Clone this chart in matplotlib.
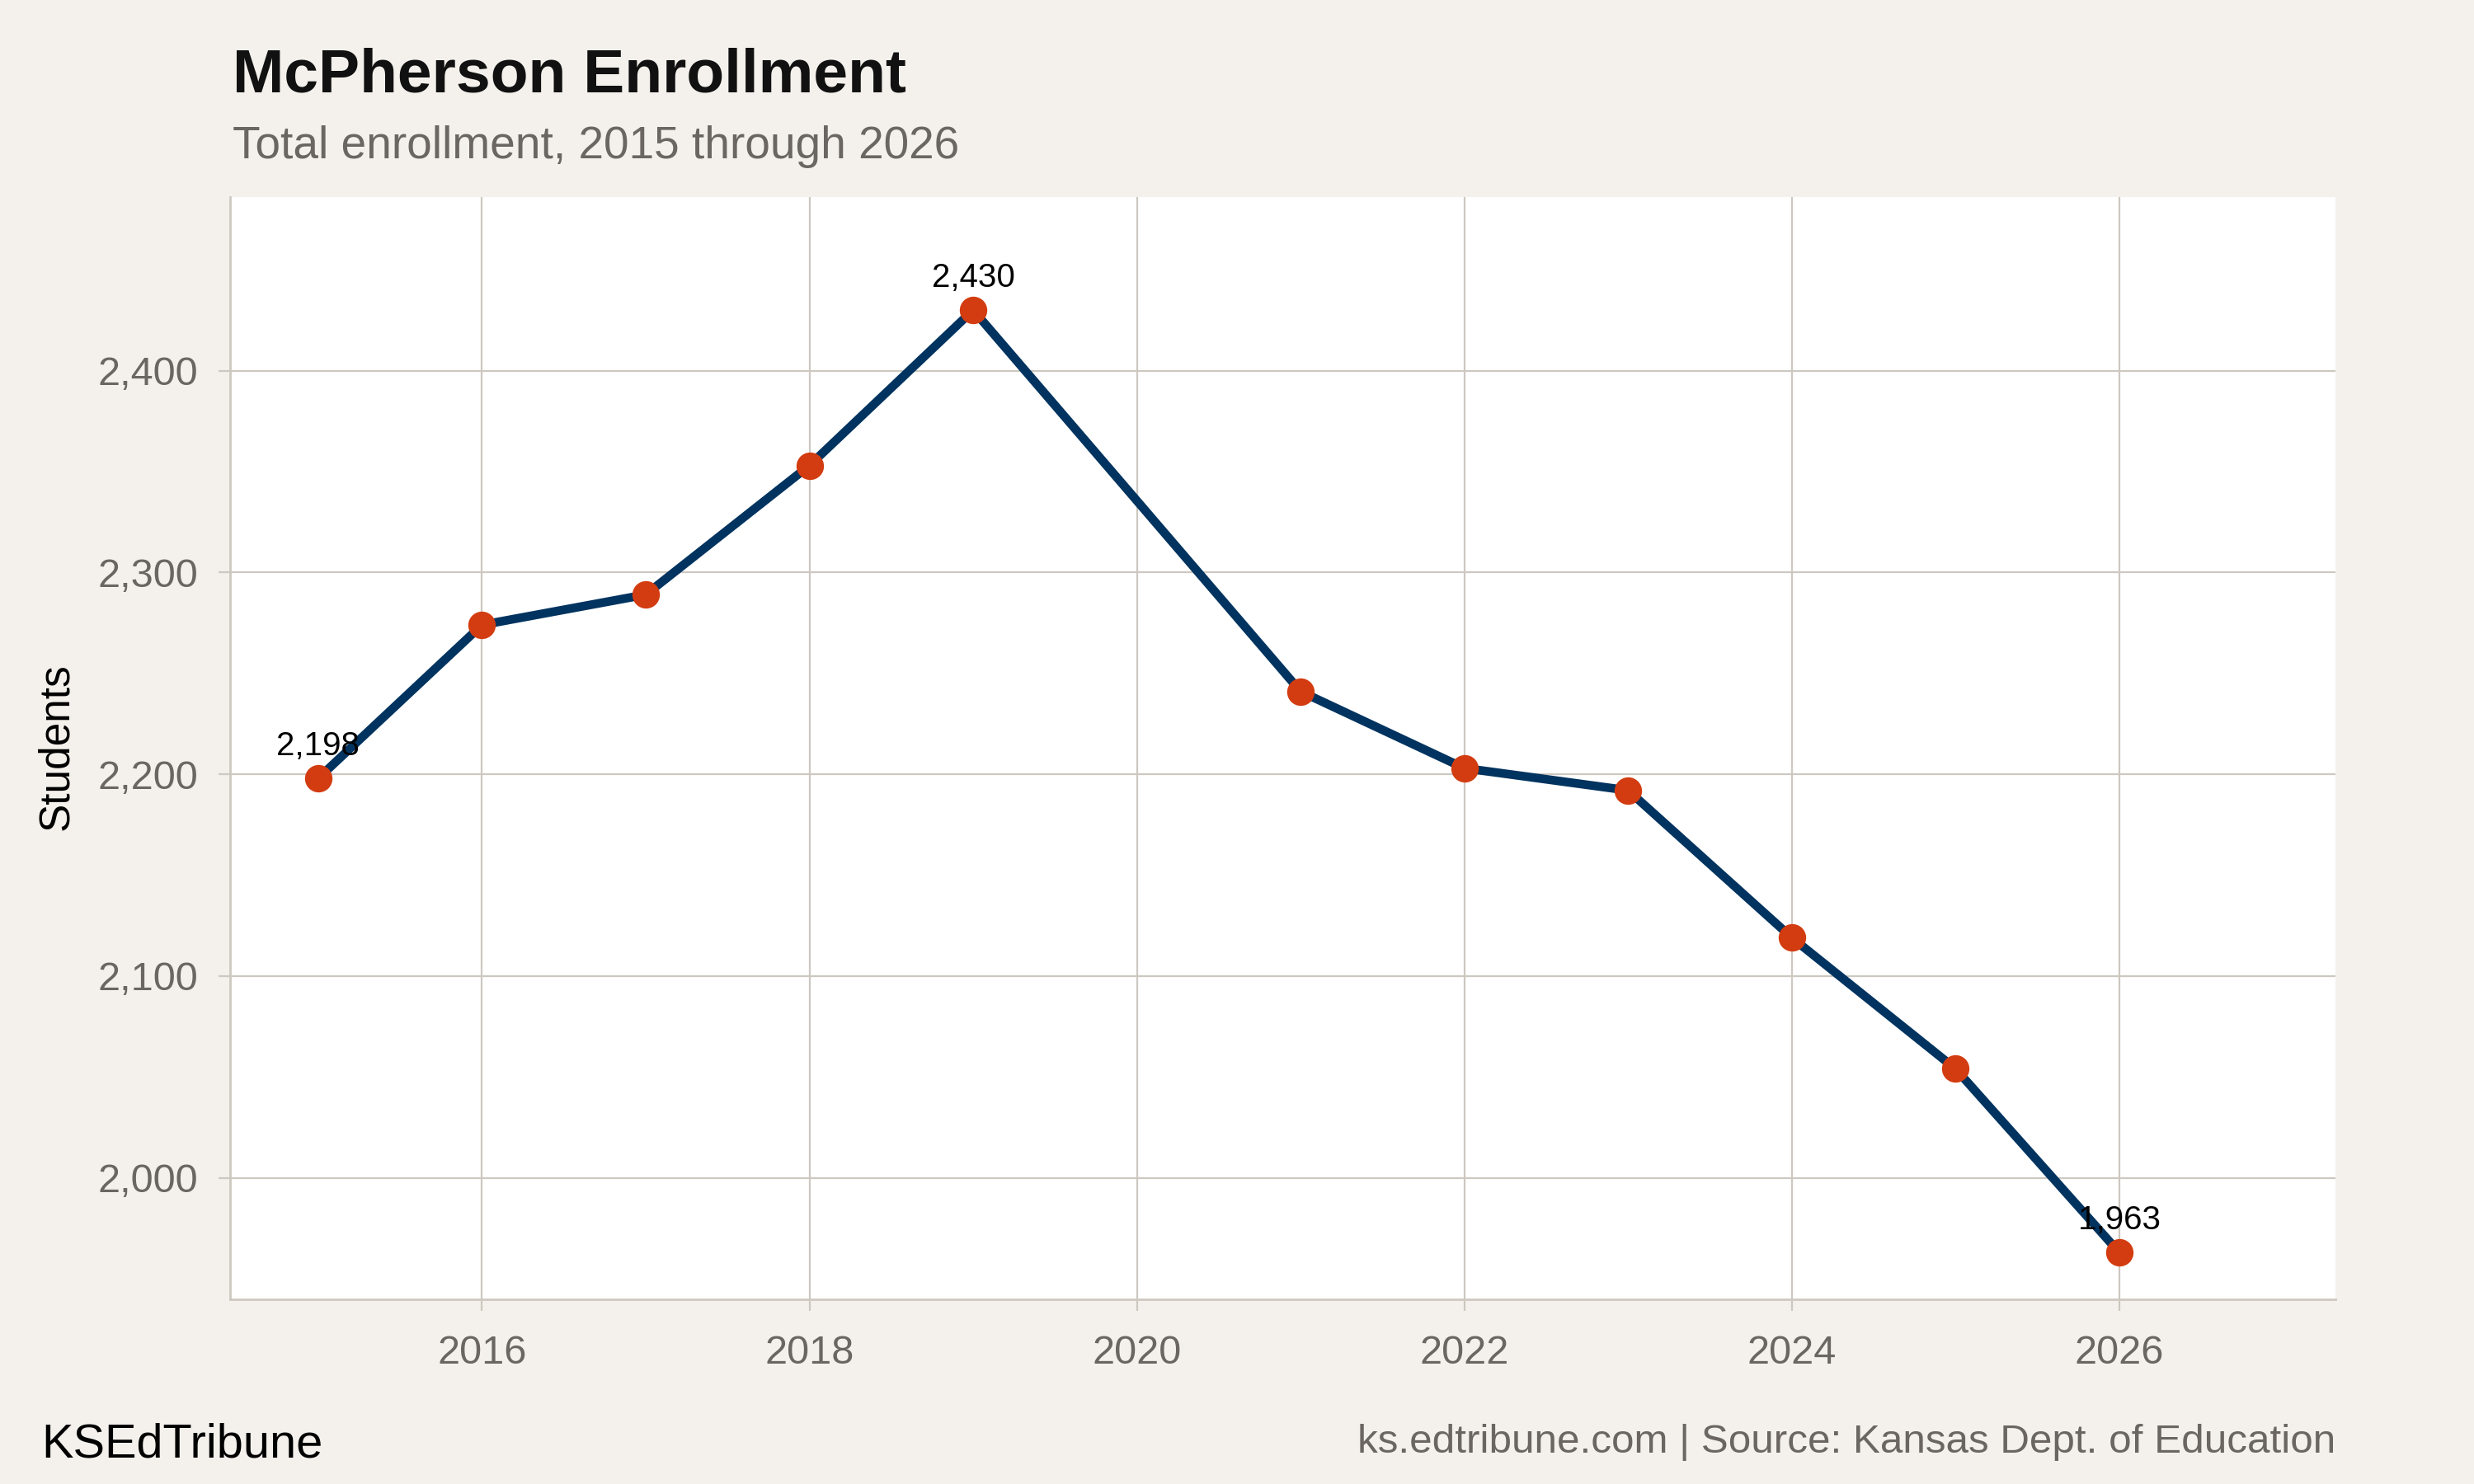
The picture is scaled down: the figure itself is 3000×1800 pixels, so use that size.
import matplotlib
matplotlib.use("Agg")
import matplotlib.pyplot as plt
from matplotlib.ticker import FuncFormatter

years = [2015, 2016, 2017, 2018, 2019, 2021, 2022, 2023, 2024, 2025, 2026]
students = [2198, 2274, 2289, 2353, 2430, 2241, 2203, 2192, 2119, 2054, 1963]
labelled_years = [2015, 2019, 2026]

title = "McPherson Enrollment"
subtitle = "Total enrollment, 2015 through 2026"
brand = "KSEdTribune"
source = "ks.edtribune.com | Source: Kansas Dept. of Education"

bg = "#f4f1ec"
grid_col = "#cdc8c0"
grey_txt = "#6b6661"
line_col = "#00335f"
dot_col = "#d33c10"

plt.rcParams['font.family'] = ['Liberation Sans', 'DejaVu Sans']

fig = plt.figure(figsize=(15, 9), dpi=200, facecolor=bg)
ax = fig.add_axes([0.0929, 0.1247, 0.8511, 0.7425])
ax.set_facecolor("white")

ax.plot(years, students, color=line_col, lw=3.8, zorder=3, solid_capstyle='round')
ax.plot(years, students, 'o', color=dot_col, ms=12, mec='none', zorder=4)

for yr, val in zip(years, students):
    if yr in labelled_years:
        ax.annotate(f"{val:,}", (yr, val), xytext=(0, 10), textcoords="offset points",
                    ha="center", va="baseline", fontsize=14.5, color="black", zorder=5)

ax.set_xlim(2014.46, 2027.32)
ax.set_ylim(1940, 2486)
ax.set_xticks(range(2016, 2027, 2))
ax.set_yticks(range(2000, 2401, 100))
ax.yaxis.set_major_formatter(FuncFormatter(lambda v, p: f"{int(v):,}"))

ax.grid(True, color=grid_col, lw=0.8, zorder=0)
ax.set_axisbelow(True)
for s in ["top", "right"]:
    ax.spines[s].set_visible(False)
for s in ["left", "bottom"]:
    ax.spines[s].set_color(grid_col)
    ax.spines[s].set_linewidth(1.0)
ax.tick_params(axis="both", colors=grid_col, labelcolor=grey_txt, labelsize=17.5,
               length=5, width=0.8)
ax.tick_params(axis="x", pad=10.5)
ax.tick_params(axis="y", pad=9)

fig.text(0.023, 0.4967, "Students", rotation=90, ha="center", va="center",
         fontsize=18.5, color="black")

fig.text(0.094, 0.9378, title, fontsize=27, fontweight="bold", color="#111111",
         ha="left", va="baseline")
fig.text(0.094, 0.8933, subtitle, fontsize=19.8, color=grey_txt, ha="left", va="baseline")

fig.text(0.0167, 0.0183, brand, fontsize=20.8, color="black", ha="left", va="baseline")
fig.text(0.944, 0.0211, source, fontsize=17.8, color=grey_txt, ha="right", va="baseline")

fig.savefig("out.png", dpi=200, facecolor=bg)
